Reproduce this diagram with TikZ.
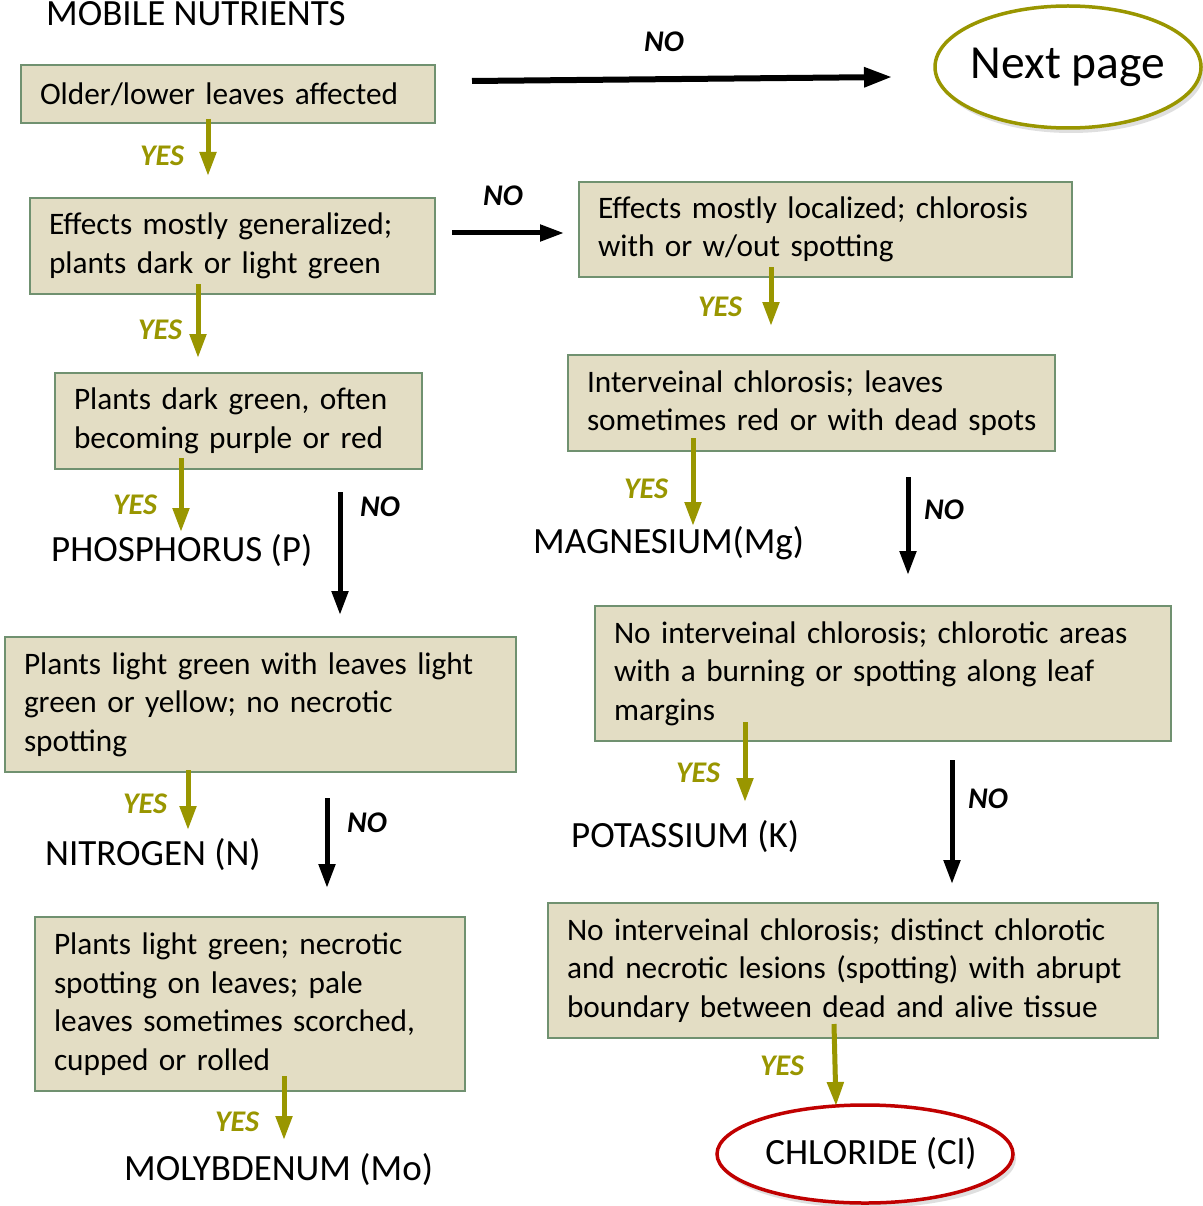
\documentclass[tikz,border=0pt]{standalone}
\usepackage{fontspec}
\setmainfont{Carlito}
\usetikzlibrary{arrows.meta,shadows,shapes.geometric}
\definecolor{olivearr}{RGB}{153,150,0}
\definecolor{boxfill}{RGB}{227,221,196}
\definecolor{boxline}{RGB}{112,145,112}
\definecolor{redline}{RGB}{192,0,0}
\tikzset{
  box/.style={draw=boxline, fill=boxfill, line width=2pt, rectangle, inner xsep=19pt, inner ysep=0pt, align=left, font=\fontsize{31.3}{38.5}\selectfont},
  lbl/.style={inner sep=0pt, font=\fontsize{37}{40}\selectfont},
  yeslbl/.style={inner sep=0pt, text=olivearr, font=\fontsize{30}{32}\selectfont\bfseries\itshape},
  nolbl/.style={inner sep=0pt, text=black, font=\fontsize{30}{32}\selectfont\bfseries\itshape},
  yesarr/.style={draw=olivearr, line width=5pt, -{Triangle[width=16pt,length=24pt]}},
  noarr/.style={draw=black, line width=5pt, -{Triangle[width=16pt,length=24pt]}},
  oval/.style={ellipse, line width=3.5pt, fill=white, inner sep=0pt, drop shadow={shadow xshift=3pt, shadow yshift=-5pt, opacity=0.25, fill=gray}}
}
\begin{document}
\begin{tikzpicture}[x=1pt,y=-1pt]
\useasboundingbox[fill=white] (0,0) rectangle (1202,1206);

% title
\node[lbl, anchor=base west] (title) at (46,26) {MOBILE NUTRIENTS};

% boxes
\node[box, text width=376pt, minimum height=58pt] (b1) at (228,94) {Older/lower leaves affected};
\node[box, text width=367pt, minimum height=96pt] (b2) at (232.5,246) {Effects mostly generalized;\\plants dark or light green};
\node[box, text width=455pt, minimum height=95pt] (b3) at (825.5,229.5) {Effects mostly localized; chlorosis\\with or w/out spotting};
\node[box, text width=329pt, minimum height=96pt] (b4) at (238.5,421) {Plants dark green, often\\becoming purple or red};
\node[box, text width=449pt, minimum height=96pt] (b5) at (811.5,403) {Interveinal chlorosis; leaves\\\mbox{sometimes red or with dead spots}};
\node[box, text width=473pt, minimum height=135pt] (b6) at (260.5,704.5) {Plants light green with leaves light\\green or yellow; no necrotic\\spotting};
\node[box, text width=538pt, minimum height=135pt] (b7) at (883,673.5) {No interveinal chlorosis; chlorotic areas\\with a burning or spotting along leaf\\margins};
\node[box, text width=392pt, minimum height=174pt] (b8) at (250,1004) {Plants light green; necrotic\\spotting on leaves; pale\\leaves sometimes scorched,\\cupped or rolled};
\node[box, text width=572pt, minimum height=135pt] (b9) at (853,970.5) {No interveinal chlorosis; distinct chlorotic\\and necrotic lesions (spotting) with abrupt\\boundary between dead and alive tissue};

% result labels
\node[lbl, anchor=base west] (phos) at (51,561) {PHOSPHORUS (P)};
\node[lbl, anchor=base west] (nitro) at (45,865) {NITROGEN (N)};
\node[lbl, anchor=base west] (molyb) at (124,1180) {MOLYBDENUM (Mo)};
\node[lbl, anchor=base west] (magn) at (533,553) {MAGNESIUM(Mg)};
\node[lbl, anchor=base west] (potas) at (571,847) {POTASSIUM (K)};

% ovals
\node[oval, draw=olivearr, minimum width=266pt, minimum height=122pt, font=\fontsize{47.5}{50}\selectfont] (next) at (1068,67) {\makebox[0pt]{Next page}};
\node[oval, draw=redline, minimum width=296pt, minimum height=98pt, font=\fontsize{37}{40}\selectfont] (chlor) at (865,1154) {\makebox[0pt]{\hspace*{12pt}CHLORIDE (Cl)}};

% arrow end coordinates
\coordinate (n0s) at (472,81);   \coordinate (n0e) at (892,77);
\coordinate (y1s) at (208,119);  \coordinate (y1e) at (208,176);
\coordinate (n2s) at (452,233);  \coordinate (n2e) at (564,233);
\coordinate (y2s) at (198,284);  \coordinate (y2e) at (198,358);
\coordinate (y3s) at (771,267);  \coordinate (y3e) at (771,326);
\coordinate (y4s) at (181,458);  \coordinate (y4e) at (181,532);
\coordinate (n4s) at (340,492);  \coordinate (n4e) at (340,615);
\coordinate (y5s) at (693,438);  \coordinate (y5e) at (693,526);
\coordinate (n5s) at (908,477);  \coordinate (n5e) at (908,575);
\coordinate (y6s) at (188,770);  \coordinate (y6e) at (188,830);
\coordinate (n6s) at (327,798);  \coordinate (n6e) at (327,888);
\coordinate (y7s) at (745,722);  \coordinate (y7e) at (745,802);
\coordinate (n7s) at (952,760);  \coordinate (n7e) at (952,884);
\coordinate (y8s) at (284,1076); \coordinate (y8e) at (284,1140);
\coordinate (y9s) at (834,1024); \coordinate (y9e) at (836,1106);

% arrows
\draw[noarr, line width=6pt, -{Triangle[width=19pt,length=28pt]}] (n0s) -- (n0e);
\draw[yesarr] (y1s) -- (y1e);
\draw[noarr] (n2s) -- (n2e);
\draw[yesarr] (y2s) -- (y2e);
\draw[yesarr] (y3s) -- (y3e);
\draw[yesarr] (y4s) -- (y4e);
\draw[noarr] (n4s) -- (n4e);
\draw[yesarr] (y5s) -- (y5e);
\draw[noarr] (n5s) -- (n5e);
\draw[yesarr] (y6s) -- (y6e);
\draw[noarr] (n6s) -- (n6e);
\draw[yesarr] (y7s) -- (y7e);
\draw[noarr] (n7s) -- (n7e);
\draw[yesarr] (y8s) -- (y8e);
\draw[yesarr] (y9s) -- (y9e);

% arrow labels
\node[nolbl] (l0) at (664,42) {NO};
\node[yeslbl] (l1) at (162,156) {YES};
\node[nolbl] (l2) at (503,196) {NO};
\node[yeslbl] (l3) at (160,330) {YES};
\node[yeslbl] (l4) at (720,307) {YES};
\node[yeslbl] (l5) at (135,505) {YES};
\node[nolbl] (l6) at (380,507) {NO};
\node[yeslbl] (l7) at (646,489) {YES};
\node[nolbl] (l8) at (944,510) {NO};
\node[yeslbl] (l9) at (145,804) {YES};
\node[nolbl] (l10) at (367,823) {NO};
\node[yeslbl] (l11) at (698,773) {YES};
\node[nolbl] (l12) at (988,799) {NO};
\node[yeslbl] (l13) at (237,1122) {YES};
\node[yeslbl] (l14) at (782,1066) {YES};
\end{tikzpicture}
\end{document}
